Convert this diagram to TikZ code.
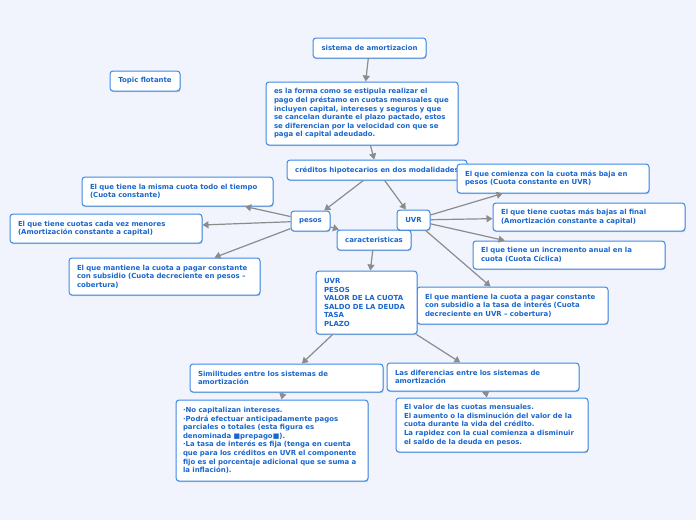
\documentclass[tikz,border=0pt]{standalone}
\usepackage{fontspec}
\setmainfont{DejaVu Sans}
\usepackage{tikz}
\usetikzlibrary{arrows.meta, shadows}
\definecolor{fondo}{HTML}{F1F4FC}
\definecolor{borde}{HTML}{3D8AE6}
\definecolor{letra}{HTML}{1A66CC}
\definecolor{gris}{HTML}{8C8C8C}

\begin{document}
\begin{tikzpicture}[x=1pt, y=-1pt,
    caja/.style={draw=borde, fill=white, rounded corners=3pt, line width=1pt,
      text=letra, font=\bfseries\fontsize{6.95}{8.6}\selectfont,
      inner xsep=8pt, inner ysep=2pt,
      drop shadow={shadow xshift=0.6pt, shadow yshift=-1.2pt, opacity=0.2, fill=black}},
    corta/.style={caja, minimum height=20pt},
    larga/.style={caja, align=left, text width=#1},
    flecha/.style={draw=gris, line width=1.2pt, -{Triangle[length=6pt,width=7pt]}}]
                \useasboundingbox (0,0) rectangle (696,520);
                \fill[fondo] (0,0) rectangle (696,520);
                % tema central
                \node[corta, minimum width=113pt] (S) at (369.5,48) {sistema de amortizacion};
                \node[corta, minimum width=70pt] (F) at (145,81) {Topic flotante};
                \node[larga=176pt, minimum height=63pt] (D) at (362,113.5)
                  {es la forma como se estipula realizar el\\
                   pago del préstamo en cuotas mensuales que\\
                   incluyen capital, intereses y seguros y que\\
                   se cancelan durante el plazo pactado, estos\\
                   se diferencian por la velocidad con que se\\
                   paga el capital adeudado.};
                \node[corta, minimum width=180pt] (H) at (377,170) {créditos hipotecarios en dos modalidades};
                % pesos
                \node[larga=175pt, minimum height=29pt] (P1) at (177.5,191.5)
                  {El que tiene la misma cuota todo el tiempo\\ (Cuota constante)};
                \node[larga=176pt, minimum height=29pt] (P2) at (106,228.5)
                  {El que tiene cuotas cada vez menores\\ (Amortización constante a capital)};
                \node[larga=175pt, minimum height=37pt] (P3) at (164.5,276.5)
                  {El que mantiene la cuota a pagar constante\\
                   con subsidio (Cuota decreciente en pesos –\\ cobertura)};
                \node[corta, minimum width=39pt] (P) at (310.5,221) {pesos};
                \node[corta, minimum width=74pt] (K) at (374,240) {caracteristicas};
                % UVR
                \node[corta, minimum width=33pt] (U) at (413.5,220) {UVR};
                \node[larga=176pt, minimum height=29pt] (U1) at (553,178.5)
                  {El que comienza con la cuota más baja en\\ pesos (Cuota constante en UVR)};
                \node[larga=176pt, minimum height=28pt] (U2) at (589,217)
                  {El que tiene cuotas más bajas al final\\ (Amortización constante a capital)};
                \node[larga=176pt, minimum height=28pt] (U3) at (569,255)
                  {El que tiene un incremento anual en la\\ cuota (Cuota Cíclica)};
                \node[larga=175pt, minimum height=37pt] (U4) at (512.5,305.5)
                  {El que mantiene la cuota a pagar constante\\
                   con subsidio a la tasa de interés (Cuota\\ decreciente en UVR – cobertura)};
                % caracteristicas
                \node[larga=85pt, minimum height=63pt] (L) at (366.5,302.5)
                  {UVR\\ PESOS\\ VALOR DE LA CUOTA\\ SALDO DE LA DEUDA\\ TASA\\ PLAZO};
                \node[larga=177pt, minimum height=28pt] (SA) at (286.5,378)
                  {Similitudes entre los sistemas de\\ amortización};
                \node[larga=178pt, inner xsep=7pt, minimum height=81pt] (SB) at (272,440.5)
                  {·No capitalizan intereses.\\
                   ·Podrá efectuar anticipadamente pagos\\
                   parciales o totales (esta figura es\\
                   denominada ■prepago■).\\
                   ·La tasa de interés es fija (tenga en cuenta\\
                   que para los créditos en UVR el componente\\
                   fijo es el porcentaje adicional que se suma a\\
                   la inflación).};
                \node[larga=176pt, minimum height=28pt] (DA) at (483,377)
                  {Las diferencias entre los sistemas de\\ amortización};
                \node[larga=176pt, minimum height=54pt] (DB) at (492,425)
                  {El valor de las cuotas mensuales.\\
                   El aumento o la disminución del valor de la\\
                   cuota durante la vida del crédito.\\
                   La rapidez con la cual comienza a disminuir\\
                   el saldo de la deuda en pesos.};
                % conectores
                \foreach \a/\b in {S/D, D/H, H/P, H/U, P/P1, P/P2, P/P3, P/K,
                  U/U1, U/U2, U/U3, U/U4, K/L, L/SA, L/DA, SA/SB, DA/DB}
                  \draw[flecha] (\a) -- (\b);
            \end{tikzpicture}
\end{document}
